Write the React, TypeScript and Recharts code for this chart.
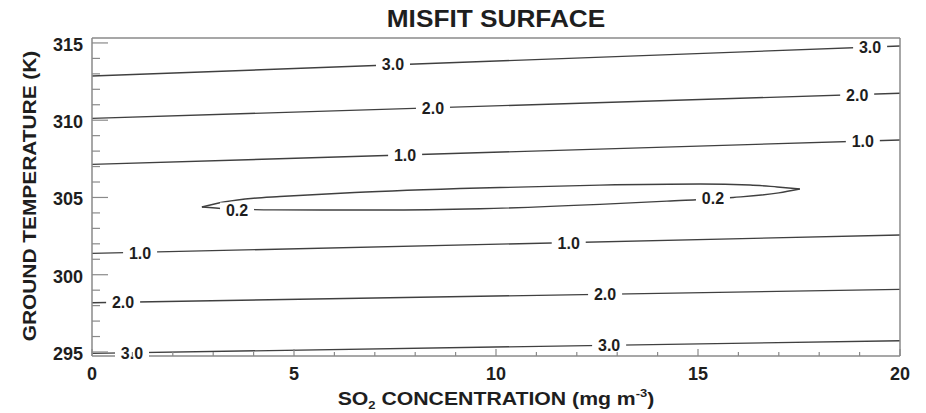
import { ComposedChart, Line, Scatter, XAxis, YAxis } from 'recharts';

type Pt = [number, number];

const FONT = '"Liberation Sans", Arial, Helvetica, sans-serif';
const INK = '#1e1e1e';
const FRAME = '#8a8a8a';
const CONTOUR = '#404040';

// axis ticks: minor every unit, labelled every 5
const X_TICKS = [0, 1, 2, 3, 4, 5, 6, 7, 8, 9, 10, 11, 12, 13, 14, 15, 16, 17, 18, 19, 20];
const X_LABELS = [0, 5, 10, 15, 20];
const Y_TICKS = [295, 296, 297, 298, 299, 300, 301, 302, 303, 304, 305, 306, 307, 308, 309, 310, 311, 312, 313, 314, 315];
const Y_LABELS = [295, 300, 305, 310, 315];
const Y_DOMAIN: Pt = [294.74, 315.32];

// contour traces as [SO2 concentration, ground temperature]
const warm30: Pt[] = [[0, 312.86], [20, 314.8]];
const warm20: Pt[] = [[0, 310.12], [20, 311.74]];
const warm10: Pt[] = [[0, 307.14], [20, 308.72]];
// the closed 0.2 loop, split into its upper and lower halves (tip to tip)
const minimumUpper: Pt[] = [
  [2.72, 304.38], [3.3, 304.72], [4.0, 304.95], [4.65, 305.06], [6.5, 305.32],
  [9.6, 305.61], [12.57, 305.8], [15.05, 305.87], [16.29, 305.81], [16.96, 305.68],
  [17.52, 305.55],
];
const minimumLower: Pt[] = [
  [2.72, 304.38], [3.3, 304.27], [4.5, 304.2], [7.13, 304.19], [9.6, 304.27],
  [12.57, 304.55], [14.23, 304.76], [15.87, 305.0], [17.0, 305.3], [17.52, 305.55],
];
const cool10: Pt[] = [[0, 301.38], [20, 302.57]];
const cool20: Pt[] = [[0, 298.19], [20, 299.05]];
const cool30: Pt[] = [[0, 294.91], [20, 295.73]];

// where each contour carries its level tag
const tagC = [7.45, 19.26, 8.44, 18.94, 7.75, 19.08, 3.59, 15.37, 1.19, 11.8, 0.77, 12.7, 0.99, 12.8];
const tagT = [313.62, 314.73, 310.82, 311.66, 307.76, 308.64, 304.22, 304.97, 301.42, 302.08, 298.22, 298.74, 294.95, 295.43];
const tagLevel = ['3.0', '3.0', '2.0', '2.0', '1.0', '1.0', '0.2', '0.2', '1.0', '1.0', '2.0', '2.0', '3.0', '3.0'];

const contours = [warm30, warm20, warm10, minimumUpper, minimumLower, cool10, cool20, cool30];
const toRows = (pts: Pt[]) => pts.map(([c, t]) => ({ c, t }));
const tagRows = tagC.map((c, i) => ({ c, t: tagT[i], level: tagLevel[i] }));

const labelStyle = { fontFamily: FONT, fontWeight: 700, fill: INK };

const BottomTick = ({ x, y, payload }: any) => {
  const major = X_LABELS.includes(payload.value);
  return (
    <g>
      <line x1={x} x2={x} y1={y} y2={y - (major ? 7 : 4)} stroke={FRAME} strokeWidth={1.2} />
      {major && (
        <text x={x} y={y + 24} textAnchor="middle" fontSize={18} {...labelStyle}>
          {payload.value}
        </text>
      )}
    </g>
  );
};

const TopTick = ({ x, y, payload }: any) => {
  const major = X_LABELS.includes(payload.value);
  return <line x1={x} x2={x} y1={y} y2={y + (major ? 7 : 4)} stroke={FRAME} strokeWidth={1.2} />;
};

const LeftTick = ({ x, y, payload }: any) => {
  const major = Y_LABELS.includes(payload.value);
  return (
    <g>
      <line x1={x} x2={x + (major ? 16 : 8)} y1={y} y2={y} stroke={FRAME} strokeWidth={1.2} />
      {major && (
        <text x={x - 9} y={y + 8} textAnchor="end" fontSize={18} {...labelStyle}>
          {payload.value}
        </text>
      )}
    </g>
  );
};

const RightTick = ({ x, y, payload }: any) => {
  const major = Y_LABELS.includes(payload.value);
  return <line x1={x} x2={x - (major ? 15 : 8)} y1={y} y2={y} stroke={FRAME} strokeWidth={1.2} />;
};

// level tag: white box breaks the contour, number sits in the gap
const ContourTag = ({ cx, cy, payload }: any) => (
  <g>
    <rect x={cx - 17} y={cy - 7} width={34} height={14} fill="#fff" />
    <text x={cx} y={cy + 6} textAnchor="middle" fontSize={16} {...labelStyle}>
      {payload.level}
    </text>
  </g>
);

export default function App() {
  return (
    <div style={{ position: 'absolute', left: 0, top: 0, width: 926, height: 413, background: '#fff' }}>
      <ComposedChart
        width={926}
        height={413}
        margin={{ top: 37, right: 25, bottom: 27, left: 32 }}
      >
        <XAxis
          xAxisId="b"
          type="number"
          dataKey="c"
          domain={[0, 20]}
          ticks={X_TICKS}
          interval={0}
          height={30}
          tickSize={0}
          tickMargin={0}
          tickLine={false}
          axisLine={{ stroke: FRAME, strokeWidth: 1.5 }}
          tick={<BottomTick />}
        />
        <XAxis
          xAxisId="t"
          orientation="top"
          type="number"
          dataKey="c"
          domain={[0, 20]}
          ticks={X_TICKS}
          interval={0}
          height={1}
          tickSize={0}
          tickMargin={0}
          tickLine={false}
          axisLine={{ stroke: FRAME, strokeWidth: 1.5 }}
          tick={<TopTick />}
        />
        <YAxis
          yAxisId="l"
          type="number"
          domain={Y_DOMAIN}
          ticks={Y_TICKS}
          interval={0}
          width={60}
          tickSize={0}
          tickMargin={0}
          tickLine={false}
          axisLine={{ stroke: FRAME, strokeWidth: 1.5 }}
          tick={<LeftTick />}
        />
        <YAxis
          yAxisId="r"
          orientation="right"
          type="number"
          domain={Y_DOMAIN}
          ticks={Y_TICKS}
          interval={0}
          width={1}
          tickSize={0}
          tickMargin={0}
          tickLine={false}
          axisLine={{ stroke: FRAME, strokeWidth: 1.5 }}
          tick={<RightTick />}
        />
        {contours.map((pts, i) => (
          <Line
            key={i}
            xAxisId="b"
            yAxisId="l"
            data={toRows(pts)}
            dataKey="t"
            type="monotone"
            stroke={CONTOUR}
            strokeWidth={1.4}
            dot={false}
            isAnimationActive={false}
          />
        ))}
        <Scatter
          xAxisId="b"
          yAxisId="l"
          data={tagRows}
          dataKey="t"
          shape={<ContourTag />}
          isAnimationActive={false}
        />
      </ComposedChart>
      <svg
        width={926}
        height={413}
        style={{ position: 'absolute', left: 0, top: 0, pointerEvents: 'none' }}
      >
        <text transform="translate(496,27) scale(1.14,1)" textAnchor="middle" fontSize={23} {...labelStyle}>
          MISFIT SURFACE
        </text>
        <text transform="translate(496,405) scale(1.18,1)" textAnchor="middle" fontSize={18} {...labelStyle}>
          SO
          <tspan fontSize={11} dy={4}>2</tspan>
          <tspan dy={-4}> CONCENTRATION (mg m</tspan>
          <tspan fontSize={11} dy={-8}>-3</tspan>
          <tspan dy={8}>)</tspan>
        </text>
        <text transform="translate(36,196) rotate(-90) scale(1.16,1)" textAnchor="middle" fontSize={18} {...labelStyle}>
          GROUND TEMPERATURE (K)
        </text>
      </svg>
    </div>
  );
}
